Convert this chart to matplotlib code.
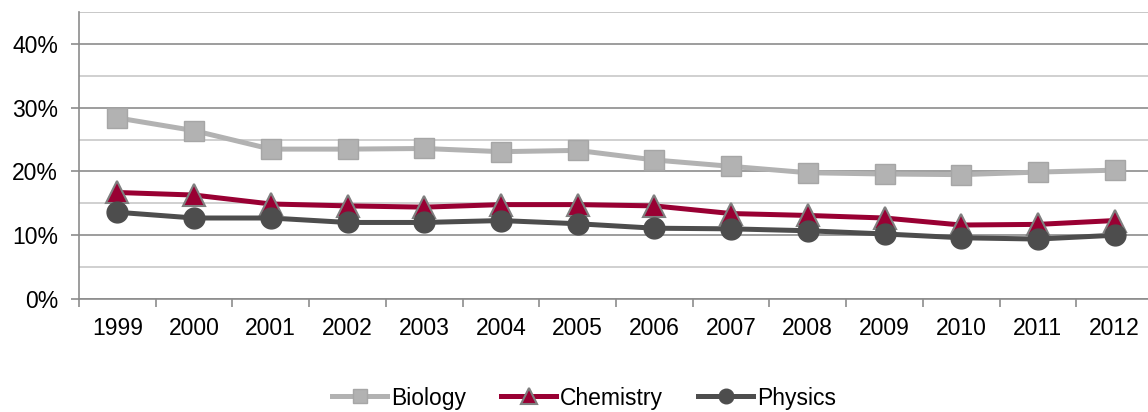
import matplotlib
matplotlib.use("Agg")
import matplotlib.pyplot as plt
from matplotlib.ticker import MultipleLocator, FuncFormatter

plt.rcParams["font.family"] = ["Liberation Sans", "DejaVu Sans"]

years = ["1999", "2000", "2001", "2002", "2003", "2004", "2005",
         "2006", "2007", "2008", "2009", "2010", "2011", "2012"]
biology = [28.4, 26.4, 23.5, 23.5, 23.6, 23.1, 23.3, 21.8, 20.8, 19.8, 19.6, 19.5, 19.9, 20.2]
chemistry = [16.7, 16.3, 14.9, 14.6, 14.4, 14.8, 14.8, 14.6, 13.4, 13.1, 12.7, 11.6, 11.7, 12.3]
physics = [13.6, 12.7, 12.7, 12.0, 12.0, 12.3, 11.8, 11.1, 11.0, 10.7, 10.2, 9.6, 9.4, 10.0]

fig = plt.figure(figsize=(11.48, 4.12), dpi=100)
# plot area: x 79..1153 px, y 12..299 px
ax = fig.add_axes([79 / 1148, (412 - 299) / 412, (1153 - 79) / 1148, (299 - 12) / 412])

x = list(range(len(years)))
ax.plot(x, biology, color="#b2b2b2", lw=3.6, marker="s", ms=15,
        mfc="#b2b2b2", mec="#a6a6a6", mew=1.0, label="Biology", zorder=3)
ax.plot(x, chemistry, color="#990033", lw=3.6, marker="^", ms=16,
        mfc="#990033", mec="#7f7f7f", mew=1.5, label="Chemistry", zorder=4)
ax.plot(x, physics, color="#4d4d4d", lw=3.6, marker="o", ms=15,
        mfc="#4d4d4d", mec="#4d4d4d", mew=1.0, label="Physics", zorder=5)

ax.set_xlim(-0.5, len(years) - 0.5)
ax.set_ylim(0, 45)

# y grid: major every 10 (darker), minor every 5 (lighter)
ax.yaxis.set_major_locator(MultipleLocator(10))
ax.yaxis.set_minor_locator(MultipleLocator(5))
ax.yaxis.set_major_formatter(FuncFormatter(lambda v, p: f"{int(v)}%"))
ax.grid(axis="y", which="major", color="#8c8c8c", lw=1.2, zorder=0)
ax.grid(axis="y", which="minor", color="#c8c8c8", lw=1.2, zorder=0)
ax.tick_params(axis="y", which="major", length=6, width=1.2, color="#8c8c8c",
               labelsize=16.5, pad=9)
ax.tick_params(axis="y", which="minor", length=0)

# x ticks between categories, labels centred on categories
ax.set_xticks([i - 0.5 for i in range(len(years) + 1)])
ax.set_xticklabels([])
ax.set_xticks(x, minor=True)
ax.set_xticklabels(years, minor=True)
ax.tick_params(axis="x", which="major", length=6, width=1.2, color="#8c8c8c")
ax.tick_params(axis="x", which="minor", length=0, labelsize=16.5, pad=13)

for side in ("top", "right"):
    ax.spines[side].set_visible(False)
ax.spines["left"].set_color("#8c8c8c")
ax.spines["left"].set_linewidth(1.2)
ax.spines["bottom"].set_color("#8c8c8c")
ax.spines["bottom"].set_linewidth(1.2)
ax.axhline(45, color="#c8c8c8", lw=1.2, zorder=0)

fig.legend(loc="center", bbox_to_anchor=(584 / 1148, 1 - 398 / 412), ncol=3,
           frameon=False, fontsize=16.5, handlelength=2.4, handletextpad=0.15,
           columnspacing=1.55, markerscale=0.7, borderpad=0, borderaxespad=0)

fig.savefig("out.png", dpi=100)
